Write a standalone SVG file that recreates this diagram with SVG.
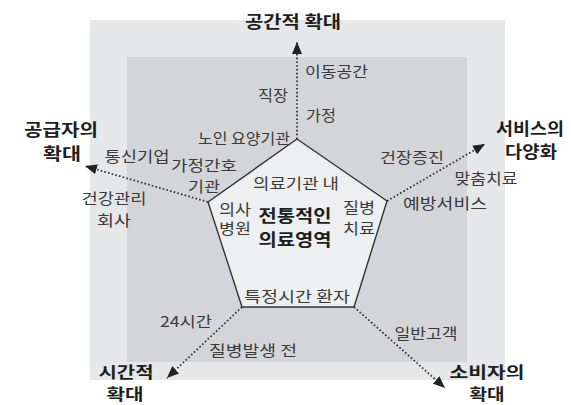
<svg xmlns="http://www.w3.org/2000/svg" width="571" height="405" viewBox="0 0 571 405">
<style>
.lbl{font-family:"Noto Sans CJK KR","Noto Sans",sans-serif;font-size:15px;fill:#3a3a3a;text-anchor:middle}
.st{text-anchor:start}
.en{text-anchor:end}
.ttl{font-family:"Noto Sans CJK KR","Noto Sans",sans-serif;font-size:16.5px;font-weight:bold;fill:#1e1e1e;text-anchor:middle}
.sm{font-size:15.5px}
.core{font-size:17px;font-weight:bold;fill:#1e1e1e}
.conn{fill:none;stroke:#333;stroke-width:1.8;stroke-dasharray:1.6 2.2;marker-end:url(#ah)}
</style>
<defs>
<marker id="ah" viewBox="0 0 12 10" refX="12" refY="5" markerWidth="12" markerHeight="10" markerUnits="userSpaceOnUse" orient="auto">
<path d="M0,0 L12,5 L0,10 z" fill="#222"/>
</marker>
</defs>
<rect width="571" height="405" fill="#fff"/>
<g id="outer-area"><rect x="90" y="20" width="415" height="360" fill="#e6e7e9"/></g>
<g id="inner-area"><rect x="127" y="57" width="340" height="305" fill="#d4d5d8"/></g>
<g id="connectors">
<path class="conn" d="M297,139 L297,42"/>
<path class="conn" d="M208,202 L85,166"/>
<path class="conn" d="M387,201 L485,144"/>
<path class="conn" d="M242,307 L167,378"/>
<path class="conn" d="M354,307 L445,388"/>
</g>
<g id="core">
<polygon points="297,139 387,201 354,307 242,307 208,202" fill="#eeeff0" stroke="#333" stroke-width="1.4"/>
<text class="lbl" x="296" y="189" textLength="86" lengthAdjust="spacingAndGlyphs">의료기관 내</text>
<text class="lbl" x="235" y="215" textLength="32" lengthAdjust="spacingAndGlyphs">의사</text>
<text class="lbl" x="235" y="234" textLength="32" lengthAdjust="spacingAndGlyphs">병원</text>
<text class="lbl core" x="295" y="222" textLength="73" lengthAdjust="spacingAndGlyphs">전통적인</text>
<text class="lbl core" x="295" y="246" textLength="73" lengthAdjust="spacingAndGlyphs">의료영역</text>
<text class="lbl" x="359" y="213" textLength="32" lengthAdjust="spacingAndGlyphs">질병</text>
<text class="lbl" x="359" y="234" textLength="32" lengthAdjust="spacingAndGlyphs">치료</text>
<text class="lbl" x="297" y="302" textLength="106" lengthAdjust="spacingAndGlyphs">특정시간 환자</text>
</g>
<g id="space">
<text class="ttl" x="293" y="28" textLength="96" lengthAdjust="spacingAndGlyphs">공간적 확대</text>
<text class="lbl st" x="305" y="77" textLength="63" lengthAdjust="spacingAndGlyphs">이동공간</text>
<text class="lbl en" x="288" y="101" textLength="30" lengthAdjust="spacingAndGlyphs">직장</text>
<text class="lbl st" x="306" y="121" textLength="30" lengthAdjust="spacingAndGlyphs">가정</text>
<text class="lbl en" x="290" y="144" textLength="92" lengthAdjust="spacingAndGlyphs">노인 요양기관</text>
</g>
<g id="provider">
<text class="ttl" x="61" y="136" textLength="74" lengthAdjust="spacingAndGlyphs">공급자의</text>
<text class="ttl" x="62" y="160" textLength="38" lengthAdjust="spacingAndGlyphs">확대</text>
<text class="lbl" x="137" y="162" textLength="65" lengthAdjust="spacingAndGlyphs">통신기업</text>
<text class="lbl" x="204" y="171" textLength="66" lengthAdjust="spacingAndGlyphs">가정간호</text>
<text class="lbl" x="204" y="192" textLength="32" lengthAdjust="spacingAndGlyphs">기관</text>
<text class="lbl" x="114" y="204" textLength="65" lengthAdjust="spacingAndGlyphs">건강관리</text>
<text class="lbl" x="114" y="226" textLength="34" lengthAdjust="spacingAndGlyphs">회사</text>
</g>
<g id="service">
<text class="ttl" x="530" y="135" textLength="68" lengthAdjust="spacingAndGlyphs">서비스의</text>
<text class="ttl" x="531" y="158" textLength="52" lengthAdjust="spacingAndGlyphs">다양화</text>
<text class="lbl" x="412" y="163" textLength="64" lengthAdjust="spacingAndGlyphs">건장증진</text>
<text class="lbl" x="486" y="184" textLength="63" lengthAdjust="spacingAndGlyphs">맞춤치료</text>
<text class="lbl" x="445" y="209" textLength="84" lengthAdjust="spacingAndGlyphs">예방서비스</text>
</g>
<g id="time">
<text class="ttl sm" x="126" y="378" textLength="55" lengthAdjust="spacingAndGlyphs">시간적</text>
<text class="ttl sm" x="125" y="400" textLength="37" lengthAdjust="spacingAndGlyphs">확대</text>
<text class="lbl" x="186" y="327" textLength="52" lengthAdjust="spacingAndGlyphs">24시간</text>
<text class="lbl" x="253" y="356" textLength="88" lengthAdjust="spacingAndGlyphs">질병발생 전</text>
</g>
<g id="consumer">
<text class="ttl sm" x="487" y="378" textLength="75" lengthAdjust="spacingAndGlyphs">소비자의</text>
<text class="ttl sm" x="487" y="400" textLength="35" lengthAdjust="spacingAndGlyphs">확대</text>
<text class="lbl" x="426" y="339" textLength="63" lengthAdjust="spacingAndGlyphs">일반고객</text>
</g>
</svg>
